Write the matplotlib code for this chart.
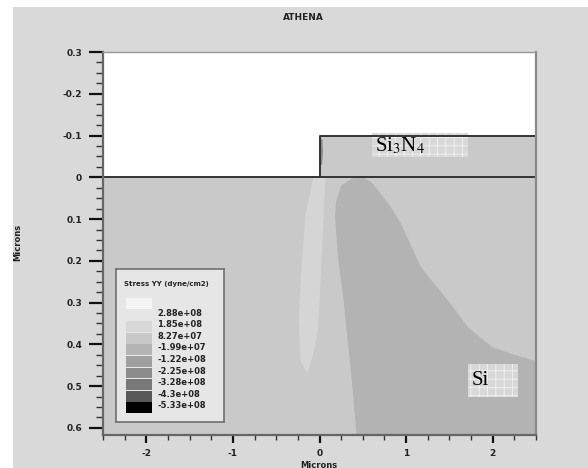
import numpy as np
import matplotlib
matplotlib.use('Agg')
import matplotlib.pyplot as plt
from matplotlib.patches import Polygon, Rectangle
from matplotlib.ticker import MultipleLocator

plt.rcParams['mathtext.fontset'] = 'stix'
plt.rcParams['hatch.linewidth'] = 0.6

# tick positions / labels as printed by ATHENA (top label really is "0.3")
ytick_pos = [-0.3, -0.2, -0.1, 0.0, 0.1, 0.2, 0.3, 0.4, 0.5, 0.6]
ytick_lab = ['0.3', '-0.2', '-0.1', '0', '0.1', '0.2', '0.3', '0.4', '0.5', '0.6']
xtick_pos = [-2, -1, 0, 1, 2]
xtick_lab = ['-2', '-1', '0', '1', '2']

# structure
nitride_x = [0.0, 2.5, 2.5, 0.0]
nitride_y = [0.0, 0.0, -0.1, -0.1]

# contour regions of stress yy (microns)
dark_x = [0.50, 0.60, 0.67, 0.82, 0.93, 1.05, 1.17, 1.48, 1.72, 2.00, 2.25, 2.5,
          2.5, 0.43, 0.42, 0.38, 0.32, 0.27, 0.22, 0.18, 0.19, 0.25, 0.38]
dark_y = [0.0, 0.012, 0.03, 0.07, 0.107, 0.16, 0.215, 0.294, 0.36, 0.407, 0.425, 0.44,
          0.62, 0.62, 0.6, 0.5, 0.38, 0.28, 0.205, 0.096, 0.06, 0.02, 0.002]
stripe_x = [-0.07, -0.16, -0.21, -0.24, -0.22, -0.14,
            -0.08, -0.02, 0.01, 0.05, 0.07]
stripe_y = [0.0, 0.086, 0.22, 0.34, 0.44, 0.47,
            0.43, 0.37, 0.26, 0.08, 0.0]
corner_x = [0.0, 0.035, 0.04, 0.03, 0.0]
corner_y = [-0.095, -0.09, -0.06, -0.03, -0.03]

# legend
levels = ['2.88e+08', '1.85e+08', '8.27e+07', '-1.99e+07', '-1.22e+08',
          '-2.25e+08', '-3.28e+08', '-4.3e+08', '-5.33e+08']
level_greys = ['#f4f4f4', '#e6e6e6', '#d8d8d8', '#c8c8c8', '#b4b4b4',
               '#a0a0a0', '#8c8c8c', '#787878', '#585858', '#000000']

bg = '#d9d9d9'
fig = plt.figure(figsize=(5.88, 4.68), dpi=100)
fig.patch.set_facecolor('white')
fig.add_artist(Rectangle((13 / 588, 0), 1, 1 - 7 / 468, transform=fig.transFigure,
                         facecolor=bg, edgecolor='none', zorder=0))

ax = fig.add_axes([103 / 588, 33 / 468, 433 / 588, 383 / 468])
ax.set_facecolor('white')
ax.set_xlim(-2.5, 2.5)
ax.set_ylim(0.617, -0.3)

ax.add_patch(Rectangle((-2.5, 0), 5, 0.7, facecolor='#c9c9c9', edgecolor='none'))
ax.add_patch(Polygon(np.column_stack([nitride_x, nitride_y]), facecolor='#c9c9c9',
                     edgecolor='none'))
ax.add_patch(Polygon(np.column_stack([dark_x, dark_y]), facecolor='#b3b3b3',
                     edgecolor='none'))
ax.add_patch(Polygon(np.column_stack([stripe_x, stripe_y]), facecolor='#d5d5d5',
                     edgecolor='none'))
ax.add_patch(Polygon(np.column_stack([corner_x, corner_y]), facecolor='#8a8a8a',
                     edgecolor='none'))

ax.plot([-2.5, 0, 0, 2.5], [0, 0, -0.1, -0.1], color='#333333', lw=1.4)
ax.plot([0, 2.5], [0, 0], color='#333333', lw=1.4)

# material labels
ax.add_patch(Rectangle((0.61, -0.105), 1.1, 0.057, facecolor='#d8d8d8',
                       edgecolor='#f2f2f2', hatch='++', lw=0))
ax.text(0.64, -0.075, 'Si$_3$N$_4$', family='Liberation Serif', fontsize=15,
        va='center', ha='left')
ax.add_patch(Rectangle((1.72, 0.447), 0.57, 0.079, facecolor='#d8d8d8',
                       edgecolor='#f2f2f2', hatch='++', lw=0))
ax.text(1.76, 0.486, 'Si', family='Liberation Serif', fontsize=15,
        va='center', ha='left')

ax.set_yticks(ytick_pos)
ax.set_yticklabels(ytick_lab)
ax.set_xticks(xtick_pos)
ax.set_xticklabels(xtick_lab)
ax.yaxis.set_minor_locator(MultipleLocator(0.025))
ax.xaxis.set_minor_locator(MultipleLocator(0.25))
ax.tick_params(axis='y', which='major', length=10, width=1.6, pad=5, color='#111111')
ax.tick_params(axis='y', which='minor', length=5, width=1.0, color='#333333')
ax.tick_params(axis='x', which='major', length=6, width=1.6, pad=4, color='#111111')
ax.tick_params(axis='x', which='minor', length=3.5, width=1.0, color='#333333')
for lab in ax.get_xticklabels() + ax.get_yticklabels():
    lab.set_fontsize(6.5)
    lab.set_fontweight('bold')
    lab.set_color('#222222')
for s in ['left', 'bottom']:
    ax.spines[s].set_color('#666666')
    ax.spines[s].set_linewidth(1.6)
ax.spines['right'].set_color('#888888')
ax.spines['right'].set_linewidth(1.6)
ax.spines['top'].set_color('#999999')
ax.spines['top'].set_linewidth(1.0)

fig.text(303 / 588, 1 - 18 / 468, 'ATHENA', ha='center', va='center',
         fontsize=6.5, fontweight='bold', color='#222222')
fig.text(18 / 588, 1 - 242 / 468, 'Microns', rotation=90, ha='center', va='center',
         fontsize=6, fontweight='bold', color='#222222')
fig.text(319 / 588, 1 - 465 / 468, 'Microns', ha='center', va='center',
         fontsize=6, fontweight='bold', color='#222222')

# legend box
lg = fig.add_axes([116 / 588, 46 / 468, 108 / 588, 153 / 468])
lg.set_xlim(0, 108)
lg.set_ylim(153, 0)
lg.set_facecolor('#e6e6e6')
for s in lg.spines.values():
    s.set_color('#707070')
    s.set_linewidth(1.2)
lg.set_xticks([])
lg.set_yticks([])
lg.text(50, 15, 'Stress YY (dyne/cm2)', ha='center', va='center', fontsize=5,
        fontweight='bold', color='#222222')
for i, c in enumerate(level_greys):
    lg.add_patch(Rectangle((10, 29 + i * 11.6), 26, 10.8, facecolor=c,
                           edgecolor='none'))
for i, t in enumerate(levels):
    lg.text(41, 29 + (i + 1) * 11.6 + 3.5, t, ha='left', va='center', fontsize=6,
            fontweight='bold', color='#222222')

plt.savefig('out.png', dpi=100)
